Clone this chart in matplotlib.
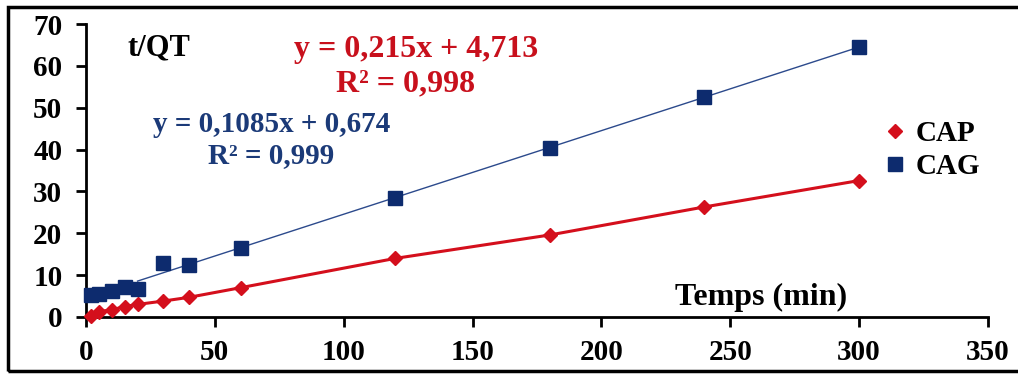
import matplotlib.pyplot as plt
from matplotlib.patches import Rectangle
from matplotlib.lines import Line2D
import numpy as np

# temps de contact (min) et t/QT pour les deux adsorbants
temps = [2, 5, 10, 15, 20, 30, 40, 60, 120, 180, 240, 300]
cap = [0.3, 1.3, 1.7, 2.5, 3.0, 3.8, 4.7, 7.0, 14.0, 19.6, 26.3, 32.6]
cag = [5.2, 5.6, 6.3, 7.2, 6.6, 12.9, 12.4, 16.6, 28.4, 40.4, 52.6, 64.5]

x_ticks = [0, 50, 100, 150, 200, 250, 300, 350]
y_ticks = [0, 10, 20, 30, 40, 50, 60, 70]

red = "#d40f1c"
navy = "#0d2b6e"
line_blue = "#2c4a8c"

plt.rcParams["font.family"] = ["Liberation Serif", "DejaVu Serif"]
plt.rcParams["font.weight"] = "bold"

fig = plt.figure(figsize=(10.18, 3.76), dpi=100)
ax = fig.add_axes([0.0845, 0.157, 0.886, 0.779])

# droite de tendance CAG (ajustée à partir de 20 min)
t = np.array(temps)
q = np.array(cag)
sel = t >= 20
a, b = np.polyfit(t[sel], q[sel], 1)
ax.plot([20, 300], [a * 20 + b, a * 300 + b], color=line_blue, lw=1.0, zorder=2)

ax.plot(temps, cap, color=red, lw=2.2, marker="D", ms=7, mec=red, mfc=red,
        zorder=3, clip_on=False)
ax.plot(temps, cag, ls="none", marker="s", ms=10, mec=navy, mfc=navy,
        zorder=3, clip_on=False)

ax.set_xlim(0, 350)
ax.set_ylim(0, 70)
ax.set_xticks(x_ticks)
ax.set_yticks(y_ticks)
ax.tick_params(direction="out", length=7, width=2, labelsize=21)
ax.tick_params(axis="x", pad=9)
ax.tick_params(axis="y", pad=10)
for lab in ax.get_xticklabels() + ax.get_yticklabels():
    lab.set_fontweight("bold")
for s in ["top", "right"]:
    ax.spines[s].set_visible(False)
for s in ["left", "bottom"]:
    ax.spines[s].set_linewidth(2)

ax.text(16, 64.3, "t/QT", fontsize=22, fontweight="bold", va="center", ha="left")
ax.text(128, 64.0, "y = 0,215x + 4,713", color="#c8101c", fontsize=23,
        fontweight="bold", ha="center", va="center")
ax.text(124, 55.8, "R² = 0,998", color="#c8101c", fontsize=23,
        fontweight="bold", ha="center", va="center")
ax.text(72, 46.0, "y = 0,1085x + 0,674", color="#1b3a78", fontsize=21,
        fontweight="bold", ha="center", va="center")
ax.text(72, 38.5, "R² = 0,999", color="#1b3a78", fontsize=21,
        fontweight="bold", ha="center", va="center")
ax.text(262, 4.6, "Temps (min)", fontsize=23, fontweight="bold",
        ha="center", va="center")

# légende : marqueurs seuls
handles = [
    Line2D([], [], ls="none", marker="D", ms=7, mec=red, mfc=red, label="CAP"),
    Line2D([], [], ls="none", marker="s", ms=10, mec=navy, mfc=navy, label="CAG"),
]
leg = ax.legend(handles=handles, loc="center left", bbox_to_anchor=(0.871, 0.57),
                frameon=False, fontsize=21, handlelength=0.6, handletextpad=0.4,
                labelspacing=0.2, borderpad=0)
for txt in leg.get_texts():
    txt.set_fontweight("bold")

# cadre autour de la figure
fig.patches.append(Rectangle((8 / 1018, 1 - 371 / 376), 1.1, (371 - 7) / 376,
                             transform=fig.transFigure, fill=False,
                             edgecolor="black", lw=2.5, zorder=0))

fig.savefig("out.png", dpi=100)
